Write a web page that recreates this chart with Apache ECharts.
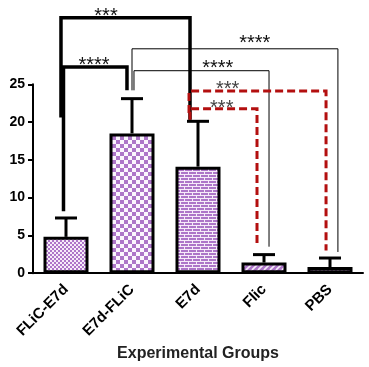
<!DOCTYPE html>
<html><head><meta charset="utf-8">
<script src="https://cdn.jsdelivr.net/npm/echarts@6/dist/echarts.min.js"></script>
<style>html,body{margin:0;padding:0;background:#fff}#c{width:369px;height:367px}</style>
</head><body><div id="c"></div>
<script>
const categories = ['FLiC-E7d', 'E7d-FLiC', 'E7d', 'Flic', 'PBS'];
const means = [4.8, 18.5, 14.1, 1.4, 0.8];
const upperErr = [7.3, 23.1, 20.1, 2.45, 2.0];
const yTicks = [0, 5, 10, 15, 20, 25];
// significance brackets: [x1, x2, yTop, yLeftEnd, yRightEnd, label, labelX, labelY, style]
const brackets = [
  [-0.076, 1.879, 33.8, 20.6, 20.3, '***', 0.606, 34.7, 'thick'],
  [-0.038, 0.924, 27.3, 8.2, 24.2, '****', 0.424, 28.1, 'thick'],
  [1.0, 4.12, 29.7, 24.2, 2.8, '****', 2.86, 31.1, 'thin'],
  [1.03, 3.076, 26.8, 24.2, 3.5, '****', 2.30, 27.8, 'thin'],
  [1.864, 3.94, 24.1, 21.2, 3.0, '***', 2.45, 25.0, 'red'],
  [1.879, 2.894, 21.75, 20.3, 3.6, '***', 2.36, 22.5, 'red']
];

const P = '#ad76c8', L = '#f6ecf9';
function mk(w, h, draw) { const c = document.createElement('canvas'); c.width = w; c.height = h; const g = c.getContext('2d'); draw(g); return c; }
const patterns = [
  mk(4, 4, g => { g.fillStyle = L; g.fillRect(0,0,4,4); g.fillStyle = P; g.fillRect(0,0,2,2); g.fillRect(2,2,2,2); }),
  mk(8, 8, g => { g.fillStyle = '#fbf6fd'; g.fillRect(0,0,8,8); g.fillStyle = P; g.fillRect(0,0,4,4); g.fillRect(4,4,4,4); }),
  mk(8, 6, g => { g.fillStyle = P; g.fillRect(0,0,8,6); g.fillStyle = L; g.fillRect(0,0,8,1); g.fillRect(0,1,1,2); g.fillRect(0,3,8,1); g.fillRect(4,4,1,2); }),
  mk(6, 6, g => { g.fillStyle = P; g.fillRect(0,0,6,6); g.strokeStyle = L; g.lineWidth = 1.6; g.beginPath(); for (let k=-6;k<=12;k+=6){ g.moveTo(k,6); g.lineTo(k+6,0);} g.stroke(); }),
  mk(4, 4, g => { g.fillStyle = P; g.fillRect(0,0,4,4); g.fillStyle = L; g.fillRect(1,1,2,2); })
];

const chart = echarts.init(document.getElementById('c'), null, {renderer: 'canvas'});
const font = 'Liberation Sans, Arial, sans-serif';
chart.setOption({
  animation: false,
  grid: {left: 33, right: 6, top: 84.3, bottom: 92.7},
  xAxis: {
    type: 'category', data: categories,
    axisLine: {lineStyle: {color: '#000', width: 2}},
    axisTick: {alignWithLabel: true, length: 5, lineStyle: {color: '#000', width: 2}},
    axisLabel: {rotate: 45, color: '#000', fontWeight: 'bold', fontSize: 15, fontFamily: font, margin: 14},
    name: 'Experimental Groups', nameLocation: 'middle', nameGap: 72,
    nameTextStyle: {color: '#222', fontWeight: 'bold', fontSize: 16, fontFamily: font}
  },
  yAxis: {
    type: 'value', min: 0, max: 25, interval: 5,
    axisLine: {show: true, lineStyle: {color: '#000', width: 2}},
    axisTick: {show: true, length: 5, lineStyle: {color: '#000', width: 2}},
    splitLine: {show: false},
    axisLabel: {color: '#000', fontWeight: 'bold', fontSize: 14, fontFamily: font, margin: 8,
      formatter: v => yTicks.includes(v) ? String(v) : ''}
  },
  series: [
    {
      type: 'bar', barWidth: 45,
      data: means.map((v, i) => ({value: v, itemStyle: {color: {image: patterns[i], repeat: 'repeat'}}})),
      itemStyle: {borderColor: '#000', borderWidth: 3}
    },
    {
      type: 'custom', z: 3,
      data: means.map((v, i) => [i, v, upperErr[i]]),
      renderItem: (params, api) => {
        const b = api.coord([api.value(0), api.value(1)]);
        const t = api.coord([api.value(0), api.value(2)]);
        return {type: 'group', children: [
          {type: 'line', shape: {x1: b[0], y1: b[1], x2: t[0], y2: t[1]}, style: {stroke: '#000', lineWidth: 3}},
          {type: 'line', shape: {x1: t[0] - 11, y1: t[1], x2: t[0] + 11, y2: t[1]}, style: {stroke: '#000', lineWidth: 3}}
        ]};
      }
    },
    {
      type: 'custom', z: 4, clip: false,
      data: brackets.map((b, i) => [i]),
      renderItem: (params, api) => {
        const br = brackets[params.dataIndex];
        const c0 = api.coord([0, 0]);
        const bw = api.size([1, 0])[0];
        const X = p => c0[0] + p * bw;
        const Y = v => api.coord([0, v])[1];
        const st = br[8];
        const style = st === 'thick' ? {stroke: '#000', lineWidth: 3.5, fill: null}
          : st === 'thin' ? {stroke: '#000', lineWidth: 1, fill: null}
          : {stroke: '#b30f0f', lineWidth: 3, lineDash: [8, 4], fill: null};
        return {type: 'group', children: [
          {type: 'polyline', shape: {points: [[X(br[0]), Y(br[3])], [X(br[0]), Y(br[2])], [X(br[1]), Y(br[2])], [X(br[1]), Y(br[4])]]}, style: style},
          {type: 'text', style: {text: br[5], x: X(br[6]), y: Y(br[7]) + 5, align: 'center', verticalAlign: 'middle',
            fill: st === 'red' ? '#444' : '#111', font: '20px ' + font}}
        ]};
      }
    }
  ]
});
</script></body></html>
